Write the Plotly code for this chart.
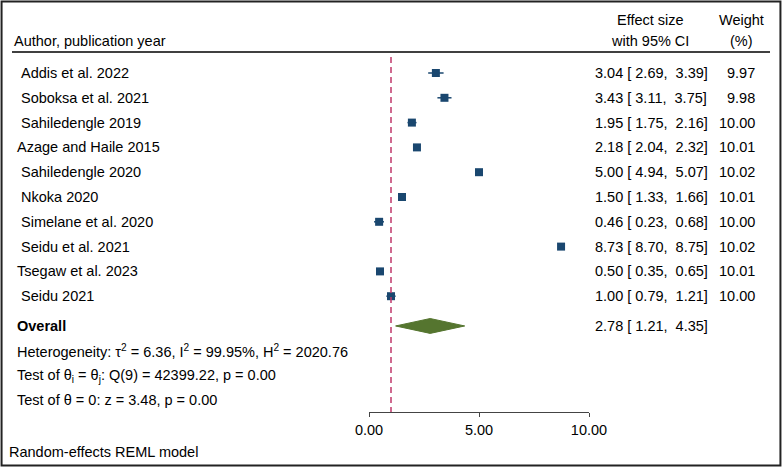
import plotly.graph_objects as go

# study data
studies = ["Addis et al. 2022", "Soboksa et al. 2021", "Sahiledengle 2019",
           "Azage and Haile 2015", "Sahiledengle 2020", "Nkoka 2020",
           "Simelane et al. 2020", "Seidu et al. 2021", "Tsegaw et al. 2023",
           "Seidu 2021"]
effect = [3.04, 3.43, 1.95, 2.18, 5.00, 1.50, 0.46, 8.73, 0.50, 1.00]
lower = [2.69, 3.11, 1.75, 2.04, 4.94, 1.33, 0.23, 8.70, 0.35, 0.79]
upper = [3.39, 3.75, 2.16, 2.32, 5.07, 1.66, 0.68, 8.75, 0.65, 1.21]
weight = [9.97, 9.98, 10.00, 10.01, 10.02, 10.01, 10.00, 10.02, 10.01, 10.00]

# pooled estimate
overall_es, overall_lo, overall_hi = 2.78, 1.21, 4.35
null_value = 1.0

stats_lines = [
    "Heterogeneity: τ<sup>2</sup> = 6.36, I<sup>2</sup> = 99.95%, H<sup>2</sup> = 2020.76",
    "Test of θ<sub>i</sub> = θ<sub>j</sub>: Q(9) = 42399.22, p = 0.00",
    "Test of θ = 0: z = 3.48, p = 0.00",
]
model_note = "Random-effects REML model"
x_ticks = [0, 5, 10]

# layout helpers (rows are y units)
W, H = 782, 467
row_px, row0_px = 24.8, 73
axis_px = 412
unindented = {"Azage and Haile 2015", "Tsegaw et al. 2023"}
FONT = "Liberation Sans, Arial, sans-serif"
FS = 14.5
NAVY = "#1a476f"
GREEN = "#55752f"
RED = "#c0396b"


def px_x(p):
    return p / W


def fmt(v):
    s = f"{v:.2f}"
    return "\u00a0" * (5 - len(s)) + s


rows = list(range(len(studies)))
overall_row = len(studies) + 0.2
stat_rows = [overall_row + 1 + i for i in range(len(stats_lines))]

fig = go.Figure()

# study estimates with CI
fig.add_trace(go.Scatter(
    x=effect, y=rows, mode="markers",
    marker=dict(symbol="square", size=8, color=NAVY),
    error_x=dict(type="data", symmetric=False,
                 array=[u - e for u, e in zip(upper, effect)],
                 arrayminus=[e - l for e, l in zip(effect, lower)],
                 color=NAVY, thickness=1.5, width=0),
    showlegend=False, hoverinfo="skip"))

# overall diamond
h = 0.3
fig.add_trace(go.Scatter(
    x=[overall_lo, overall_es, overall_hi, overall_es, overall_lo],
    y=[overall_row, overall_row - h, overall_row, overall_row + h, overall_row],
    mode="lines", fill="toself", fillcolor=GREEN,
    line=dict(color=GREEN, width=1), showlegend=False, hoverinfo="skip"))

# null line
top_row = (57 - row0_px) / row_px
bottom_row = (axis_px - row0_px) / row_px
fig.add_shape(type="line", xref="x", yref="y", x0=null_value, x1=null_value,
              y0=top_row, y1=bottom_row,
              line=dict(color=RED, width=1.5, dash="6px,4px"))

# header rule
head_row = (52 - row0_px) / row_px
fig.add_shape(type="line", xref="paper", yref="y", x0=px_x(12), x1=px_x(770),
              y0=head_row, y1=head_row, line=dict(color="black", width=1.5))

# outer frame
fig.add_shape(type="rect", xref="paper", yref="paper", x0=0.002, x1=0.998,
              y0=0.003, y1=0.997, line=dict(color="#222222", width=2))

ann = []


def text(x, y, s, align="left", xanchor="left", yref="y"):
    ann.append(dict(x=x, y=y, xref="paper", yref=yref, text=s, showarrow=False,
                    xanchor=xanchor, yanchor="middle", align=align,
                    font=dict(family=FONT, size=FS, color="black")))


h1 = (20 - row0_px) / row_px
h2 = (41 - row0_px) / row_px
text(px_x(12), h2, "Author, publication year")
text(px_x(650), h1, "Effect size", xanchor="center")
text(px_x(650), h2, "with 95% CI", xanchor="center")
text(px_x(741), h1, "Weight", xanchor="center")
text(px_x(741), h2, "(%)", xanchor="center")

for i, name in enumerate(studies):
    x0 = 15 if name in unindented else 19
    text(px_x(x0), i, name)
    text(px_x(593), i, f"{effect[i]:.2f} [{fmt(lower[i])}, {fmt(upper[i])}]")
    text(px_x(757), i, f"{weight[i]:.2f}", xanchor="right")

text(px_x(15), overall_row, "<b>Overall</b>")
text(px_x(593), overall_row, f"{overall_es:.2f} [{fmt(overall_lo)}, {fmt(overall_hi)}]")
for r, s in zip(stat_rows, stats_lines):
    text(px_x(15), r, s)

# below the axis, so it is placed on the paper rather than the row axis
text(px_x(7), 1 - 452 / H, model_note, yref="paper")

fig.update_layout(
    width=W, height=H,
    margin=dict(l=0, r=0, t=0, b=0, autoexpand=False),
    paper_bgcolor="white", plot_bgcolor="white",
    annotations=ann,
    xaxis=dict(domain=[px_x(369), px_x(589)], range=[0, 10],
               tickvals=x_ticks, ticktext=[f"{t:.2f}" for t in x_ticks],
               showline=True, linecolor="#444444", linewidth=1.3,
               ticks="outside", ticklen=4, tickcolor="#444444",
               showgrid=False, zeroline=False, automargin=False,
               tickfont=dict(family=FONT, size=FS, color="black")),
    yaxis=dict(domain=[(H - axis_px) / H, 1],
               range=[(axis_px - row0_px) / row_px, -row0_px / row_px],
               visible=False, showgrid=False, zeroline=False, automargin=False),
)

# drop the default page margin so the figure sits at the window origin
fig.write_html("out.html", config={"displayModeBar": False},
               post_script="document.body.style.margin='0';"
                           "document.body.style.overflow='hidden';")
